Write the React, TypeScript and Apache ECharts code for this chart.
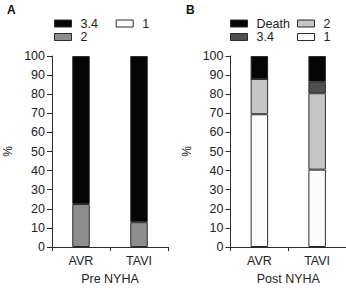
import React, { useEffect, useRef } from "react";
import * as echarts from "echarts";

// NYHA class distribution (%) before and after the procedure
const categories = ["AVR", "TAVI"];
const yTicks = [0, 10, 20, 30, 40, 50, 60, 70, 80, 90, 100];

// Pre NYHA
const preClass2 = [22.5, 13];
const preClass34 = [77.5, 87];

// Post NYHA
const postClass1 = [69.5, 40.5];
const postClass2 = [18.5, 40];
const postClass34 = [0, 6];
const postDeath = [12, 13.5];

const FONT = "'Liberation Sans', Arial, Helvetica, sans-serif";
const EDGE = "#2b2b2b";
const C_BLACK = "#050505";
const C_GREY_A = "#8e8e8e";
const C_GREY_LIGHT = "#c6c6c6";
const C_GREY_DARK = "#505050";
const C_WHITE = "#fcfcfc";

export default function App() {
  const ref = useRef<HTMLDivElement>(null);

  useEffect(() => {
    if (!ref.current) return;
    document.body.style.margin = "0";
    const chart = echarts.init(ref.current, null, { renderer: "svg", width: 346, height: 290 });

    const yAxisBase = (gridIndex: number) => ({
      type: "value" as const,
      gridIndex,
      min: yTicks[0],
      max: yTicks[yTicks.length - 1],
      interval: yTicks[1] - yTicks[0],
      name: "%",
      nameLocation: "middle" as const,
      nameRotate: 90,
      nameGap: 38,
      nameTextStyle: { fontFamily: FONT, fontSize: 12, color: "#222" },
      axisLine: { show: true, lineStyle: { color: EDGE, width: 1 } },
      axisTick: { show: true, length: 5, lineStyle: { color: EDGE, width: 1 } },
      axisLabel: { fontFamily: FONT, fontSize: 12.5, color: "#222", margin: 7 },
      splitLine: { show: false },
    });

    const xAxisBase = (gridIndex: number, name: string) => ({
      type: "category" as const,
      gridIndex,
      data: categories,
      name,
      nameLocation: "middle" as const,
      nameGap: 25,
      nameTextStyle: { fontFamily: FONT, fontSize: 12.5, color: "#222" },
      axisLine: { show: true, lineStyle: { color: EDGE, width: 1 } },
      axisTick: { show: true, length: 4, interval: 0, lineStyle: { color: EDGE, width: 1 } },
      axisLabel: { fontFamily: FONT, fontSize: 12.5, color: "#222", margin: 7 },
    });

    const bar = (
      name: string,
      data: number[],
      color: string,
      axisIndex: number,
      stack: string
    ) => ({
      type: "bar" as const,
      name,
      data,
      stack,
      xAxisIndex: axisIndex,
      yAxisIndex: axisIndex,
      barWidth: 17.5,
      itemStyle: { color, borderColor: EDGE, borderWidth: 1 },
      emphasis: { disabled: true },
    });

    const legendItem = (
      name: string,
      color: string,
      left: number,
      top: number
    ) => ({
      data: [{ name, itemStyle: { color, borderColor: EDGE, borderWidth: 1 } }],
      left,
      top,
      padding: 0,
      icon: "rect",
      itemWidth: 17,
      itemHeight: 7,
      textStyle: {
        fontFamily: FONT,
        fontSize: 12.5,
        color: "#222",
        padding: [0, 0, 0, 4],
      },
    });

    chart.setOption({
      animation: false,
      backgroundColor: "#ffffff",
      grid: [
        { left: 52, top: 56, width: 116, bottom: 37.5 },
        { left: 230.5, top: 56, width: 118, bottom: 37.5 },
      ],
      xAxis: [xAxisBase(0, "Pre NYHA"), xAxisBase(1, "Post NYHA")],
      yAxis: [yAxisBase(0), yAxisBase(1)],
      legend: [
        legendItem("3.4", C_BLACK, 54, 17),
        legendItem("1", C_WHITE, 115.7, 17),
        legendItem("2", C_GREY_A, 54, 30.5),
        legendItem("Death", C_BLACK, 230, 17),
        legendItem("2", C_GREY_LIGHT, 297, 17),
        legendItem("3.4", C_GREY_DARK, 230, 30.5),
        legendItem("1", C_WHITE, 297, 30.5),
      ],
      series: [
        bar("2", preClass2, C_GREY_A, 0, "pre"),
        bar("3.4", preClass34, C_BLACK, 0, "pre"),
        bar("1", postClass1, C_WHITE, 1, "post"),
        bar("2", postClass2, C_GREY_LIGHT, 1, "post"),
        bar("3.4", postClass34, C_GREY_DARK, 1, "post"),
        bar("Death", postDeath, C_BLACK, 1, "post"),
      ],
      graphic: [
        {
          type: "text",
          left: 7,
          top: 4,
          style: { text: "A", fontFamily: FONT, fontSize: 12, fontWeight: "bold", fill: "#111" },
        },
        {
          type: "text",
          left: 186,
          top: 4,
          style: { text: "B", fontFamily: FONT, fontSize: 12, fontWeight: "bold", fill: "#111" },
        },
      ],
    });

    return () => chart.dispose();
  }, []);

  return <div ref={ref} style={{ width: 346, height: 290 }} />;
}
